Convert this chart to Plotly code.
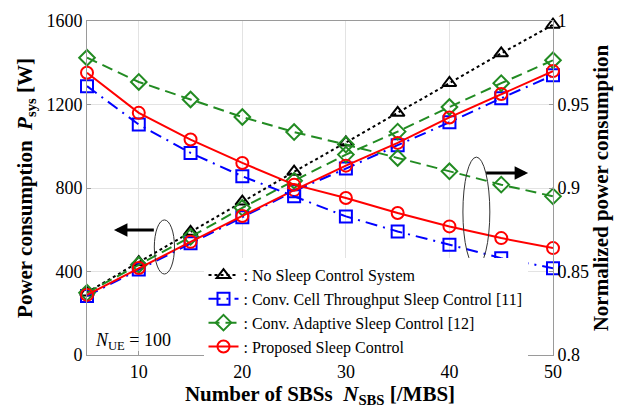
import plotly.graph_objects as go

# Number of small base stations per macro base station
n_sbs = [5, 10, 15, 20, 25, 30, 35, 40, 45, 50]

# System power consumption P_sys [W] (left axis)
power_no_sleep = [300, 445, 590, 735, 878, 1018, 1160, 1303, 1445, 1582]
power_throughput = [283, 410, 535, 660, 785, 893, 1005, 1115, 1230, 1340]
power_adaptive = [298, 432, 566, 705, 835, 960, 1070, 1188, 1302, 1412]
power_proposed = [288, 417, 542, 666, 790, 907, 1016, 1138, 1250, 1360]

# Normalized power consumption (right axis)
norm_throughput = [0.961, 0.938, 0.921, 0.907, 0.895, 0.883, 0.874, 0.866, 0.858, 0.852]
norm_adaptive = [0.978, 0.9635, 0.953, 0.9425, 0.9335, 0.926, 0.918, 0.910, 0.902, 0.895]
norm_proposed = [0.969, 0.945, 0.929, 0.915, 0.902, 0.894, 0.885, 0.877, 0.870, 0.864]

x_ticks = [10, 20, 30, 40, 50]
left_ticks = [0, 400, 800, 1200, 1600]
right_ticks = [0.8, 0.85, 0.9, 0.95, 1]
right_tick_text = ["0.8", "0.85", "0.9", "0.95", "1"]

SERIF = "Liberation Serif"

styles = {
    "nosleep": dict(color="black", dash="dot", symbol="triangle-up-open",
                    name=": No Sleep Control System"),
    "throughput": dict(color="#0000ff", dash="12px,6px,2px,6px", symbol="square-open",
                       name=": Conv. Cell Throughput Sleep Control [11]"),
    "adaptive": dict(color="#228b22", dash="11px,6px", symbol="diamond-open",
                     name=": Conv. Adaptive Sleep Control [12]"),
    "proposed": dict(color="#ff0000", dash="solid", symbol="circle-open",
                     name=": Proposed Sleep Control"),
}

fig = go.Figure()


def add_series(key, y, yaxis, show):
    s = styles[key]
    fig.add_trace(go.Scatter(
        x=n_sbs, y=y, yaxis=yaxis, mode="lines+markers",
        name=s["name"], legendgroup=key, showlegend=show,
        line=dict(color=s["color"], dash=s["dash"], width=2),
        marker=dict(symbol=s["symbol"], size=12, color=s["color"],
                    line=dict(color=s["color"], width=2)),
        cliponaxis=False,
    ))


add_series("nosleep", power_no_sleep, "y", True)
add_series("throughput", power_throughput, "y", True)
add_series("adaptive", power_adaptive, "y", True)
add_series("proposed", power_proposed, "y", True)
add_series("throughput", norm_throughput, "y2", False)
add_series("adaptive", norm_adaptive, "y2", False)
add_series("proposed", norm_proposed, "y2", False)

axis_common = dict(
    showline=True, linecolor="#9a9a9a", linewidth=1,
    ticks="inside", ticklen=4, tickcolor="#9a9a9a",
    tickfont=dict(family=SERIF, size=18, color="black"),
    zeroline=False,
)
title_font = dict(family=SERIF, size=21, color="black")

fig.update_layout(
    width=621, height=412,
    margin=dict(l=87, r=68, t=21, b=57),
    plot_bgcolor="white", paper_bgcolor="white",
    font=dict(family=SERIF, size=16, color="black"),
    xaxis=dict(range=[5, 50], tickvals=x_ticks, mirror=True,
               showgrid=True, gridcolor="#e3e3e3",
               title=dict(text="<b>Number of SBSs  <i>N</i><sub>SBS</sub> [/MBS]</b>",
                          font=title_font, standoff=2),
               **axis_common),
    yaxis=dict(range=[0, 1600], tickvals=left_ticks, mirror=True,
               showgrid=True, gridcolor="#e3e3e3",
               title=dict(text="<b>Power consumption  <i>P</i><sub>sys</sub> [W]</b>",
                          font=title_font, standoff=8),
               **axis_common),
    yaxis2=dict(range=[0.8, 1], tickvals=right_ticks, ticktext=right_tick_text,
                overlaying="y", side="right", showgrid=False,
                title=dict(text="<b>Normalized power consumption</b>",
                           font=title_font, standoff=4),
                **axis_common),
    legend=dict(x=0.25, y=0.29, xanchor="left", yanchor="top",
                bgcolor="white", borderwidth=0, tracegroupgap=0,
                font=dict(family=SERIF, size=16, color="black")),
    showlegend=True,
)

# Number of users
fig.add_annotation(x=0.012, y=0.0, xref="paper", yref="paper",
                   xanchor="left", yanchor="bottom", showarrow=False,
                   text="<i>N</i><sub>UE</sub> = 100",
                   font=dict(family=SERIF, size=18, color="black"))

# Ellipses grouping the curves, with arrows pointing to their axis
fig.add_shape(type="circle", xref="x", yref="y",
              x0=11.5, x1=13.45, y0=388, y1=647,
              line=dict(color="#333333", width=1))
fig.add_shape(type="circle", xref="x", yref="y",
              x0=41.3, x1=43.9, y0=422, y1=948,
              line=dict(color="#333333", width=1))

fig.add_annotation(x=7.6, y=599, ax=11.6, ay=599, xref="x", yref="y",
                   axref="x", ayref="y", text="", showarrow=True,
                   arrowhead=2, arrowsize=0.9, arrowwidth=3, arrowcolor="black")
fig.add_annotation(x=47.6, y=872, ax=43.4, ay=872, xref="x", yref="y",
                   axref="x", ayref="y", text="", showarrow=True,
                   arrowhead=2, arrowsize=0.9, arrowwidth=3, arrowcolor="black")

fig.write_html("out.html")
